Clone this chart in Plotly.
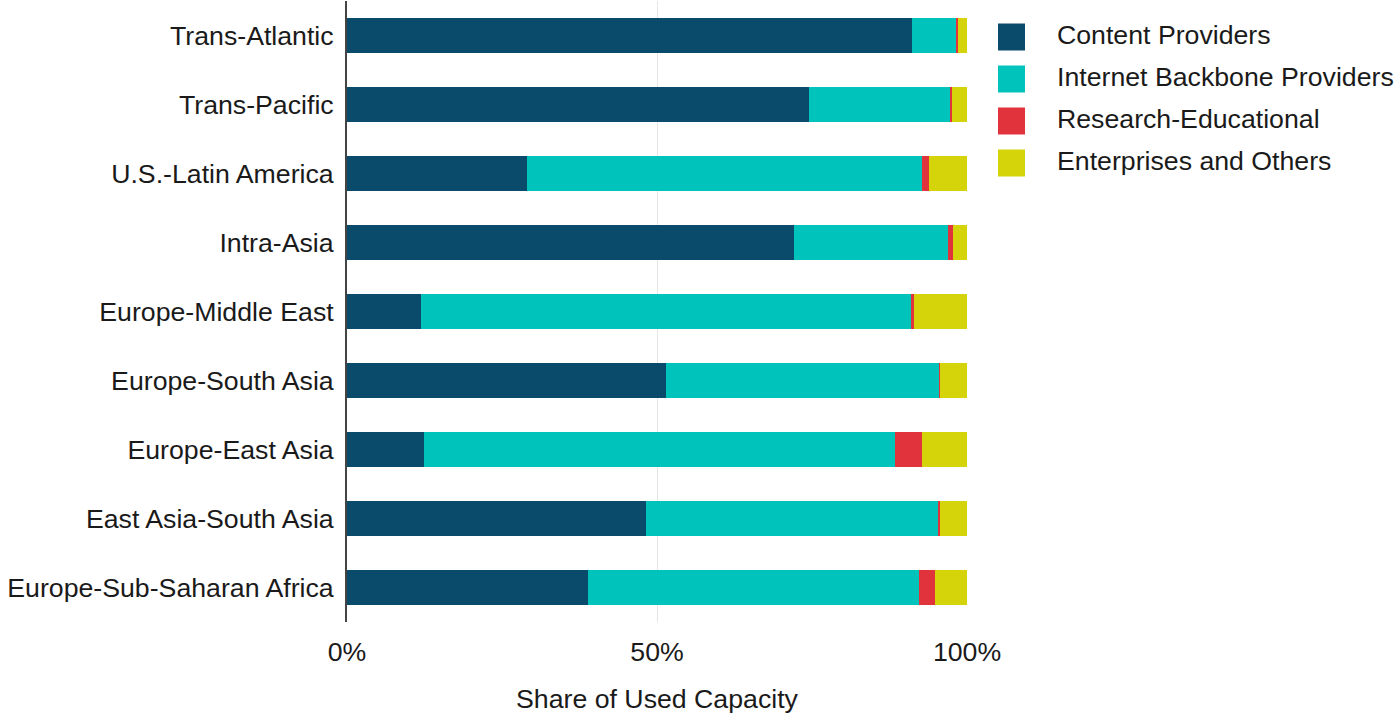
import plotly.graph_objects as go

categories = ["Trans-Atlantic", "Trans-Pacific", "U.S.-Latin America", "Intra-Asia",
              "Europe-Middle East", "Europe-South Asia", "Europe-East Asia",
              "East Asia-South Asia", "Europe-Sub-Saharan Africa"]
series_names = ["Content Providers", "Internet Backbone Providers",
                "Research-Educational", "Enterprises and Others"]
content_providers = [91.2, 74.5, 29.1, 72.1, 12.0, 51.5, 12.4, 48.2, 38.9]
backbone_providers = [7.1, 22.8, 63.6, 24.8, 79.0, 44.1, 76.0, 47.2, 53.4]
research_educational = [0.2, 0.2, 1.2, 0.8, 0.4, 0.1, 4.3, 0.2, 2.5]
enterprises_others = [1.5, 2.5, 6.1, 2.3, 8.6, 4.3, 7.3, 4.4, 5.2]
tick_values = [0, 50, 100]
tick_labels = ["0%", "50%", "100%"]
colors = ["#0a4b6c", "#00c4bc", "#e0333c", "#d5d40b"]

W, H = 1397, 714
FONT = "Liberation Sans, Arial, Helvetica, sans-serif"
TXT = "#1a1a1a"
FS = 26.7

fig = go.Figure()
for name, vals, col in zip(series_names,
                           [content_providers, backbone_providers,
                            research_educational, enterprises_others], colors):
    fig.add_trace(go.Bar(y=categories, x=vals, name=name, orientation="h",
                         marker=dict(color=col, line=dict(width=0)),
                         showlegend=False, xaxis="x", yaxis="y"))

# legend drawn as a small categorical panel (1 x-unit = 27 px)
fig.add_trace(go.Scatter(x=[0] * len(series_names), y=series_names, mode="markers",
                         marker=dict(symbol="square", size=27, color=colors,
                                     line=dict(width=0)),
                         showlegend=False, xaxis="x2", yaxis="y2", hoverinfo="skip"))
fig.add_trace(go.Scatter(x=[1.685] * len(series_names), y=series_names, mode="text",
                         text=series_names, textposition="middle right",
                         textfont=dict(size=FS, color=TXT, family=FONT),
                         showlegend=False, xaxis="x2", yaxis="y2", hoverinfo="skip"))

plot_h = 622
fig.update_layout(
    width=W, height=H,
    barmode="stack", bargap=0.5,
    plot_bgcolor="white", paper_bgcolor="white",
    margin=dict(l=0, r=0, t=1, b=H - plot_h),
    font=dict(family=FONT, size=FS, color=TXT),
    xaxis=dict(domain=[347 / W, 967 / W], range=[0, 100], tickvals=tick_values,
               ticktext=tick_labels, showgrid=True, gridcolor="#e6e6e6", gridwidth=1,
               zeroline=False, showline=False, ticks="", automargin=False,
               tickfont=dict(size=FS), ticklabelstandoff=11,
               title=dict(text="Share of Used Capacity", font=dict(size=FS), standoff=24)),
    yaxis=dict(categoryorder="array", categoryarray=categories, autorange="reversed",
               showline=True, linecolor="#444444", linewidth=2, showgrid=False,
               ticks="", automargin=False, tickfont=dict(size=FS),
               ticklabelstandoff=6),
    xaxis2=dict(domain=[998 / W, 1.0], range=[-13.5 / 27, (W - 998 - 13.5) / 27],
                visible=False, fixedrange=True),
    yaxis2=dict(domain=[0, 1], type="category", categoryorder="array",
                categoryarray=series_names,
                range=[(plot_h - 1) / 42 - 36 / 42, -36 / 42],
                visible=False, fixedrange=True, anchor="x2"),
)
fig.write_html("out.html", config={"displayModeBar": False},
               post_script="document.body.style.margin='0px';")
